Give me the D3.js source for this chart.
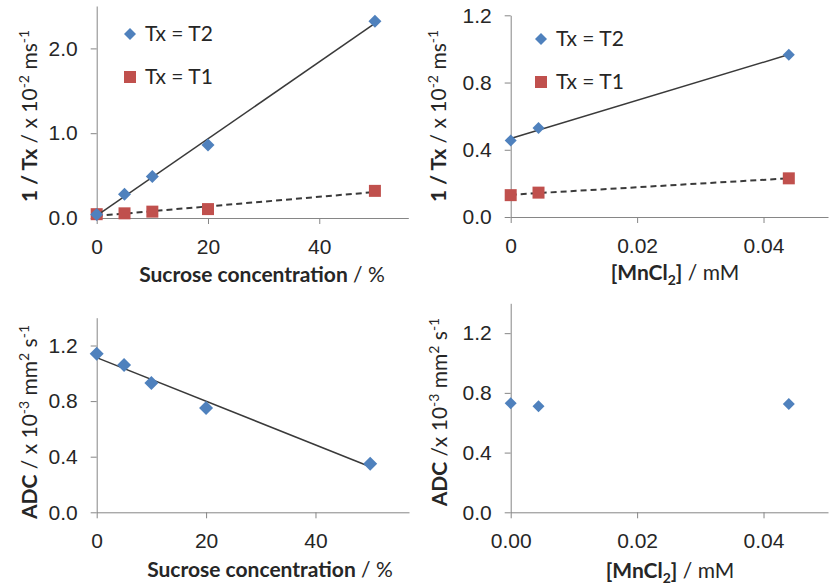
<!DOCTYPE html>
<html>
<head>
<meta charset="utf-8">
<script src="https://cdn.jsdelivr.net/npm/d3@7"></script>
<style>
  body { margin: 0; background: #fff; }
  svg { display: block; font-family: Lato, "Open Sans", sans-serif; }
  .axis path, .axis line { stroke: #868686; stroke-width: 1; }
  .axis text { fill: #262626; font-size: 21px; }
</style>
</head>
<body>
<svg id="chart" width="834" height="586"></svg>
<script>
// data
var sucroseX = [0, 5, 10, 20, 50];
var sucroseT2 = [0.04, 0.28, 0.49, 0.86, 2.32];
var sucroseT1 = [0.045, 0.055, 0.075, 0.105, 0.32];
var sucroseADC = [1.14, 1.06, 0.93, 0.75, 0.35];

var mnX = [0, 0.0044, 0.044];
var mnT2 = [0.455, 0.53, 0.965];
var mnT1 = [0.13, 0.145, 0.23];
var mnADC = [0.73, 0.71, 0.725];

var sucroseTicks = [0, 20, 40];
var mnTicks = [0, 0.02, 0.04];
var relaxTicksA = [0, 1, 2];
var relaxTicksB = [0, 0.4, 0.8, 1.2];
var adcTicks = [0, 0.4, 0.8, 1.2];

var blue = '#4F81BD', red = '#C0504D', lineCol = '#3a3a3a';

var svg = d3.select('#chart');

// least squares, same as the spreadsheet trendline
function fit(xs, ys) {
    var mx = d3.mean(xs), my = d3.mean(ys), sxy = 0, sxx = 0;
    xs.forEach(function(x, i) { sxy += (x - mx) * (ys[i] - my); sxx += (x - mx) * (x - mx); });
    var b = sxy / sxx;
    return function(x) { return my + b * (x - mx); };
}

function diamond(r) { return 'M0,' + -r + 'L' + r + ',0L0,' + r + 'L' + -r + ',0Z'; }

function panel(cfg) {
    var g = svg.append('g');
    var x = d3.scaleLinear().domain(cfg.xDomain).range(cfg.xRange);
    var y = d3.scaleLinear().domain(cfg.yDomain).range(cfg.yRange);

    g.append('g').attr('class', 'axis')
        .attr('transform', 'translate(0,' + cfg.yRange[0] + ')')
        .call(d3.axisBottom(x).tickValues(cfg.xTicks).tickFormat(cfg.xFmt)
            .tickSize(6).tickSizeOuter(0).tickPadding(15));
    g.append('g').attr('class', 'axis')
        .attr('transform', 'translate(' + cfg.xRange[0] + ',0)')
        .call(d3.axisLeft(y).tickValues(cfg.yTicks).tickFormat(d3.format('.1f'))
            .tickSize(6).tickSizeOuter(0).tickPadding(13));

    cfg.series.forEach(function(s) {
        if (s.trend) {
            var f = fit(cfg.xs, s.values);
            var x0 = d3.min(cfg.xs), x1 = d3.max(cfg.xs);
            g.append('line')
                .attr('x1', x(x0)).attr('y1', y(f(x0)))
                .attr('x2', x(x1)).attr('y2', y(f(x1)))
                .attr('stroke', lineCol)
                .attr('stroke-width', s.dash ? 2 : 1.5)
                .attr('stroke-dasharray', s.dash ? '6,4' : null);
        }
        var pts = g.append('g').selectAll('path')
            .data(s.values.map(function(v, i) { return [cfg.xs[i], v]; }))
            .enter().append('path')
            .attr('transform', function(d) { return 'translate(' + x(d[0]) + ',' + y(d[1]) + ')'; })
            .attr('fill', s.color);
        if (s.shape === 'square') pts.attr('d', 'M-6,-6h12v12h-12Z');
        else pts.attr('d', diamond(s.r || 6.5));
    });

    if (cfg.legend) {
        var lg = g.append('g').attr('transform', 'translate(' + cfg.legend[0] + ',' + cfg.legend[1] + ')');
        lg.append('path').attr('d', diamond(6)).attr('fill', blue);
        lg.append('text').attr('x', 15).attr('y', 7).attr('font-size', 21).attr('fill', '#262626').text('Tx = T2');
        lg.append('path').attr('d', 'M-6,37h12v12h-12Z').attr('fill', red);
        lg.append('text').attr('x', 15).attr('y', 50).attr('font-size', 21).attr('fill', '#262626').text('Tx = T1');
    }

    // y title, rotated
    var yt = g.append('text')
        .attr('transform', 'translate(' + cfg.yTitlePos[0] + ',' + cfg.yTitlePos[1] + ') rotate(-90)')
        .attr('text-anchor', 'middle').attr('font-size', 21).attr('fill', '#262626');
    cfg.yTitle.forEach(function(p) {
        var t = yt.append('tspan').text(p.t);
        if (p.b) t.attr('font-weight', 'bold');
        if (p.sup) t.attr('font-size', 14).attr('dy', -8);
        if (p.down) t.attr('dy', 8);
    });

    var xt = g.append('text')
        .attr('x', cfg.xTitlePos[0]).attr('y', cfg.xTitlePos[1])
        .attr('text-anchor', 'middle').attr('font-size', 21).attr('fill', '#262626');
    cfg.xTitle.forEach(function(p) {
        var t = xt.append('tspan').text(p.t);
        if (p.b) t.attr('font-weight', 'bold');
        if (p.sub) t.attr('font-size', 14).attr('dy', 5);
        if (p.up) t.attr('dy', -5);
    });
}

var relaxTitle = [{t: '1 / Tx', b: true}, {t: '  / x 10'}, {t: '-2', sup: true}, {t: ' ms', down: true}, {t: '-1', sup: true}];
var adcTitle = [{t: 'ADC', b: true}, {t: ' / x 10'}, {t: '-3', sup: true}, {t: ' mm', down: true}, {t: '2', sup: true}, {t: ' s', down: true}, {t: '-1', sup: true}];
var sucroseTitle = [{t: 'Sucrose concentration', b: true}, {t: ' / %'}];
var mnTitle = [{t: '[MnCl', b: true}, {t: '2', b: true, sub: true}, {t: ']', b: true, up: true}, {t: ' / mM'}];

panel({
    xRange: [96.7, 408.3], yRange: [218, 6], xDomain: [0, 56], yDomain: [0, 2.5],
    xTicks: sucroseTicks, yTicks: relaxTicksA, xFmt: d3.format('d'), xs: sucroseX,
    series: [
        {values: sucroseT1, color: red, shape: 'square', trend: true, dash: true},
        {values: sucroseT2, color: blue, shape: 'diamond', trend: true}
    ],
    legend: [130, 34], yTitle: relaxTitle, yTitlePos: [37, 116],
    xTitle: sucroseTitle, xTitlePos: [262, 282]
});

panel({
    xRange: [510.7, 828], yRange: [217, 15.3], xDomain: [0, 0.0502], yDomain: [0, 1.2],
    xTicks: mnTicks, yTicks: relaxTicksB,
    xFmt: function(d) { return d === 0 ? '0' : d3.format('.2f')(d); }, xs: mnX,
    series: [
        {values: mnT1, color: red, shape: 'square', trend: true, dash: true},
        {values: mnT2, color: blue, shape: 'diamond', r: 6, trend: true}
    ],
    legend: [541, 39], yTitle: relaxTitle, yTitlePos: [446, 116],
    xTitle: mnTitle, xTitlePos: [675, 280]
});

panel({
    xRange: [96.7, 409], yRange: [512.3, 317.7], xDomain: [0, 57.1], yDomain: [0, 1.4],
    xTicks: sucroseTicks, yTicks: adcTicks, xFmt: d3.format('d'), xs: sucroseX,
    series: [
        {values: sucroseADC, color: blue, shape: 'diamond', r: 7, trend: true}
    ],
    yTitle: adcTitle, yTitlePos: [37, 422],
    xTitle: sucroseTitle, xTitlePos: [270, 577]
});

panel({
    xRange: [510.7, 828], yRange: [512.3, 303.3], xDomain: [0, 0.0502], yDomain: [0, 1.4],
    xTicks: mnTicks, yTicks: adcTicks, xFmt: d3.format('.2f'), xs: mnX,
    series: [
        {values: mnADC, color: blue, shape: 'diamond', r: 6}
    ],
    yTitle: [{t: 'ADC', b: true}, {t: '  /x 10'}, {t: '-3', sup: true}, {t: ' mm', down: true}, {t: '2', sup: true}, {t: ' s', down: true}, {t: '-1', sup: true}],
    yTitlePos: [447, 412],
    xTitle: mnTitle, xTitlePos: [670, 578]
});
</script>
</body>
</html>
